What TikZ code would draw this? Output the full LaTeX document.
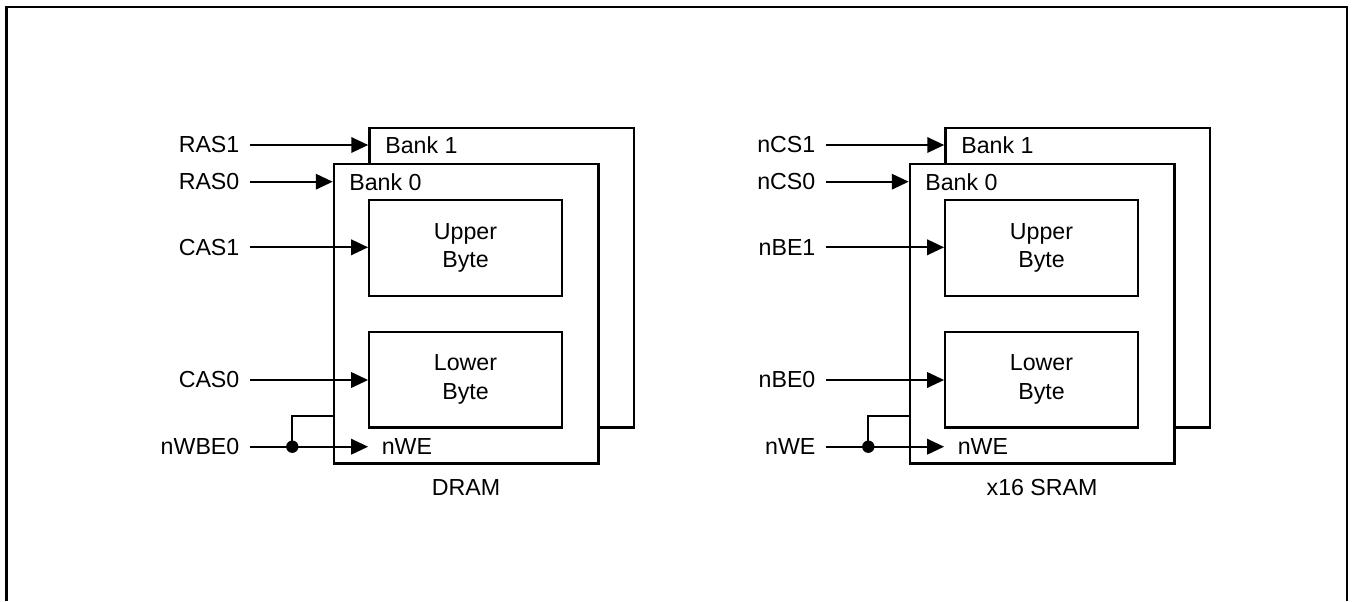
\documentclass[tikz,border=0pt]{standalone}
\usepackage{fontspec}
\setmainfont{Liberation Sans}
\usetikzlibrary{arrows.meta,positioning}

\tikzset{
  bank/.style={draw, line width=1.7pt, fill=white, minimum width=6.61cm, minimum height=7.48cm},
  byte/.style={draw, line width=1.7pt, minimum width=4.81cm, minimum height=2.39cm, align=center},
  sig/.style={anchor=east, inner xsep=7pt, inner ysep=0pt},
  inlabel/.style={anchor=west, inner sep=0pt},
  wire/.style={line width=1.3pt, -{Triangle[length=12pt,width=11pt]}},
  junction/.style={circle, fill, inner sep=0pt, minimum size=8.8pt},
}

\begin{document}
\begin{tikzpicture}[x=0.025cm, y=-0.025cm, font=\fontsize{16.5}{20.4}\selectfont]
  \useasboundingbox (0,0) rectangle (1353,601);
  \draw[line width=1.6pt] (6.5,601) -- (6.5,6.8) -- (1346.7,6.8) -- (1346.7,601);

  % DRAM
  \node[bank] (rb1) at (501.6,277.8) {};
  \node[bank] (rb0) at (466.1,313.7) {};
  \node[byte] (rup) at (465.5,247.9) {Upper\\Byte};
  \node[byte] (rlo) at (465.5,379.5) {Lower\\Byte};
  \node[inlabel] (rt1) at (385,145) {Bank 1};
  \node[inlabel] (rt0) at (349,181.7) {Bank 0};
  \node[inlabel] (rwe) at (381.5,446.7) {nWE};
  \node[sig] (ras1) at (249.5,145) {RAS1};
  \node[sig] (ras0) at (249.5,181.7) {RAS0};
  \node[sig] (cas1) at (249.5,247.3) {CAS1};
  \node[sig] (cas0) at (249.5,380) {CAS0};
  \node[sig] (nwbe) at (249.5,446.7) {nWBE0};
  \node[junction] (rj) at (292.3,446.7) {};
  \coordinate (rtap) at (333.5,415.7);
  \node[below=10.5pt of rb0, inner sep=0pt] (rname) {DRAM};
  \draw[wire] (ras1) -- (ras1 -| rb1.west);
  \draw[wire] (ras0) -- (ras0 -| rb0.west);
  \draw[wire] (cas1) -- (cas1 -| rup.west);
  \draw[wire] (cas0) -- (cas0 -| rlo.west);
  \draw[line width=1.3pt] (nwbe) -- (rj.center);
  \draw[wire] (rj.center) -- (rj -| rlo.west);
  \draw[line width=1.3pt] (rj.center) |- (rtap);

  % x16 SRAM
  \node[bank] (sb1) at (1077.6,277.8) {};
  \node[bank] (sb0) at (1042.1,313.7) {};
  \node[byte] (sup) at (1041.5,247.9) {Upper\\Byte};
  \node[byte] (slo) at (1041.5,379.5) {Lower\\Byte};
  \node[inlabel] (st1) at (961,145) {Bank 1};
  \node[inlabel] (st0) at (925,181.7) {Bank 0};
  \node[inlabel] (swe) at (957.5,446.7) {nWE};
  \node[sig] (ncs1) at (825.5,145) {nCS1};
  \node[sig] (ncs0) at (825.5,181.7) {nCS0};
  \node[sig] (nbe1) at (825.5,247.3) {nBE1};
  \node[sig] (nbe0) at (825.5,380) {nBE0};
  \node[sig] (nwe) at (825.5,446.7) {nWE};
  \node[junction] (sj) at (868.3,446.7) {};
  \coordinate (stap) at (909.5,415.7);
  \node[below=10.5pt of sb0, inner sep=0pt] (sname) {x16 SRAM};
  \draw[wire] (ncs1) -- (ncs1 -| sb1.west);
  \draw[wire] (ncs0) -- (ncs0 -| sb0.west);
  \draw[wire] (nbe1) -- (nbe1 -| sup.west);
  \draw[wire] (nbe0) -- (nbe0 -| slo.west);
  \draw[line width=1.3pt] (nwe) -- (sj.center);
  \draw[wire] (sj.center) -- (sj -| slo.west);
  \draw[line width=1.3pt] (sj.center) |- (stap);
\end{tikzpicture}
\end{document}
